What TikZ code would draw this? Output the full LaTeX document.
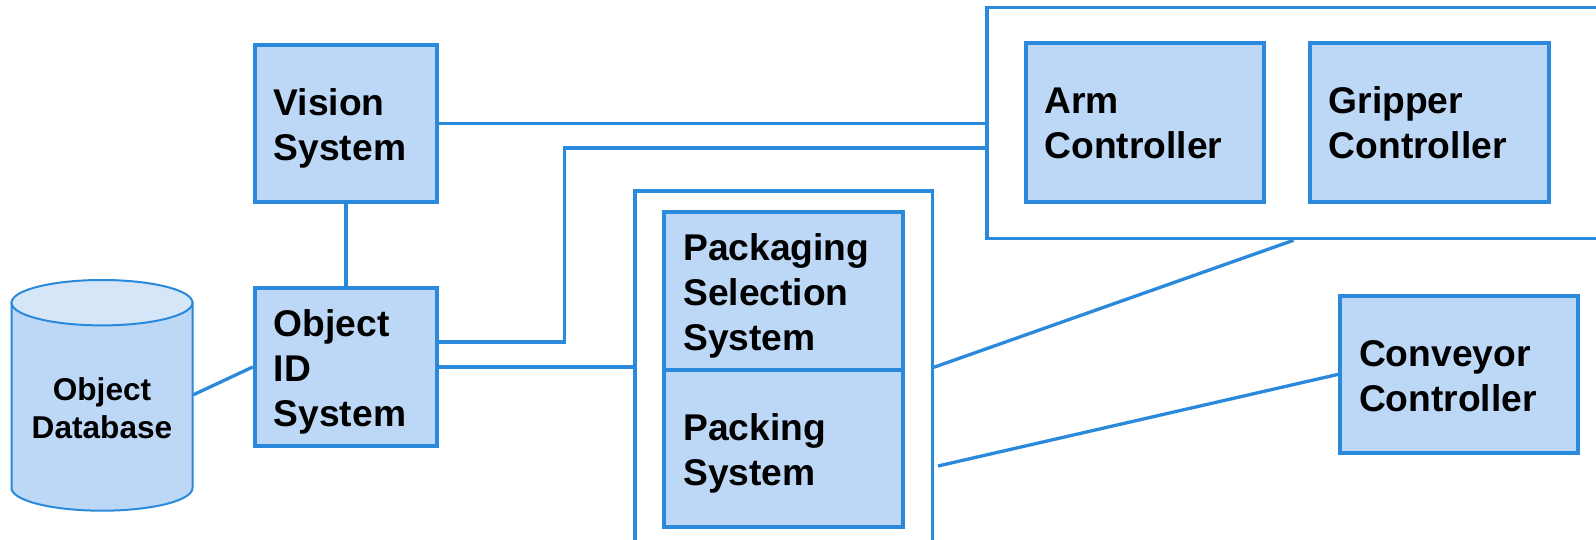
\documentclass[tikz,border=0pt]{standalone}
\usepackage{fontspec}
\setmainfont{Liberation Sans}
\usepackage{tikz}
\usetikzlibrary{calc}
\definecolor{boxfill}{RGB}{189,216,246}
\definecolor{boxline}{RGB}{42,137,218}
\definecolor{dbtop}{RGB}{213,230,249}
\begin{document}
\begin{tikzpicture}[x=0.5pt,y=-0.5pt]
                \tikzstyle{every node}+=[inner sep=0pt]
                \tikzstyle{group}=[draw=boxline, line width=1.6pt, fill=white]
                \tikzstyle{unit}=[draw=boxline, line width=2pt, fill=boxfill, align=left, inner xsep=9.5pt, font=\fontsize{18.6}{22.4}\selectfont\bfseries, execute at begin node={\rule{0pt}{18.2pt}}, execute at end node={\rule[-4pt]{0pt}{0pt}}]
                \tikzstyle{dbtext}=[align=center, font=\fontsize{15.8}{19}\selectfont\bfseries]
                \tikzstyle{link}=[draw=boxline, line width=1.65pt]
                \useasboundingbox (0,0) rectangle (1596,540);
                \node [group, minimum width=306.5pt, minimum height=115.7pt] (armgroup) at (1293.5,123) {};
                \node [group, minimum width=148.65pt, minimum height=176.3pt] (packgroup) at (783.6,367.3) {};
                \filldraw [fill=boxfill, draw=boxline, line width=1pt] (11.5,302.7) -- (11.5,488) arc [start angle=180, end angle=0, x radius=90.5, y radius=22.7] -- (192.5,302.7) -- cycle;
                \filldraw [fill=dbtop, draw=boxline, line width=1pt] (102,302.7) ellipse [x radius=90.5, y radius=22.7];
                \node [dbtext, minimum width=90.5pt] (db) at (102,408) {Object\\Database};
                \node [unit, text width=72.25pt, minimum height=78.85pt] (vision) at (346,123.6) {Vision\\System};
                \node [unit, text width=72.25pt, minimum height=79.2pt] (objid) at (346,367) {Object\\ID\\System};
                \node [unit, text width=100.4pt, minimum height=79pt] (packsel) at (783.6,291) {Packaging\\Selection\\System};
                \node [unit, text width=100.4pt, minimum height=78.65pt] (packing) at (783.6,448.7) {Packing\\System};
                \node [unit, text width=100.15pt, minimum height=79.5pt] (arm) at (1144.8,122.2) {Arm\\Controller};
                \node [unit, text width=100.75pt, minimum height=79.5pt] (gripper) at (1429.5,122.2) {Gripper\\Controller};
                \node [unit, text width=100.2pt, minimum height=78.65pt] (conveyor) at (1459.2,374.4) {Conveyor\\Controller};
                \coordinate (packout) at (938,466);
                \draw [link] (vision) -- (objid);
                \draw [link] ([yshift=6.5pt]db.east) -- (objid.west);
                \draw [link] (vision.east) -- (vision.east -| armgroup.west);
                \draw [link] ([yshift=12.5pt]objid.east) -- ++(125.5,0) |- ([yshift=-12.5pt]armgroup.west);
                \draw [link] (objid.east) -- (objid.east -| packgroup.west);
                \draw [link] (packgroup.east) -- (armgroup.south);
                \draw [link] (packout) -- (conveyor.west);
\end{tikzpicture}
\end{document}
